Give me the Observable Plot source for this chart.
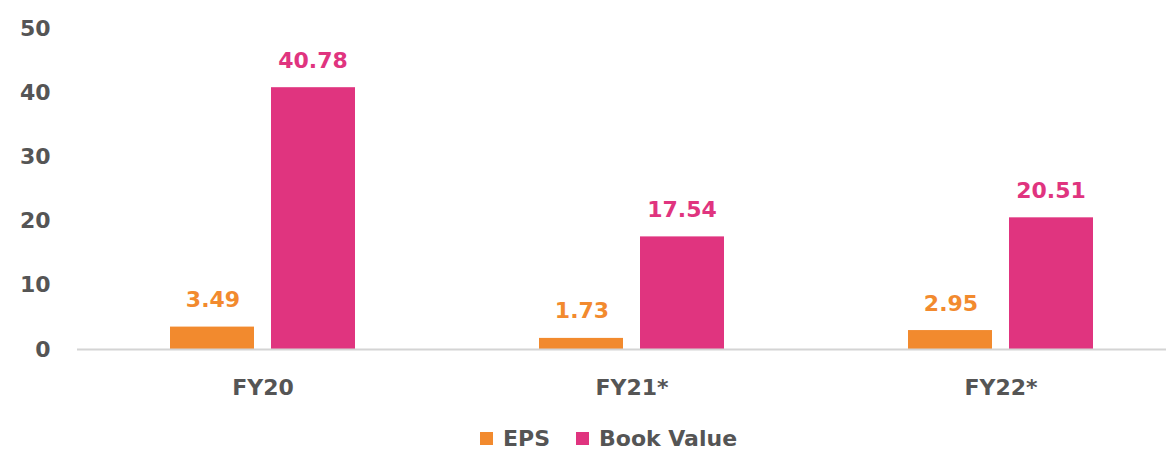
<!DOCTYPE html>
<html>
<head>
<meta charset="utf-8">
<script src="https://cdn.jsdelivr.net/npm/d3@7"></script>
<script src="https://cdn.jsdelivr.net/npm/@observablehq/plot@0.6"></script>
<style>
  html, body { margin: 0; padding: 0; background: #fff; }
  body { width: 1166px; height: 464px; overflow: hidden; font-family: "DejaVu Sans", sans-serif; }
  #legend { height: 44px; display: flex; justify-content: flex-start; align-items: center; font-weight: bold; font-size: 22px; color: #555; padding-left: 480px; margin-top: -4px; }
  .item { display: flex; align-items: center; margin-right: 26px; }
  .sw { width: 13px; height: 13px; margin-right: 10px; }
</style>
</head>
<body>
<div id="chart"></div>
<div id="legend"></div>
<script>
const categories = ["FY20", "FY21*", "FY22*"];
const series = ["EPS", "Book Value"];
const eps = [3.49, 1.73, 2.95];
const bookValue = [40.78, 17.54, 20.51];
const yTicks = [0, 10, 20, 30, 40, 50];
const colors = ["#F28A2E", "#E0347F"];

const rows = categories.map((c, i) => ({cat: c, eps: eps[i], bv: bookValue[i]}));

const font = "'DejaVu Sans', sans-serif";
const plot = Plot.plot({
  width: 1166,
  height: 420,
  marginTop: 28,
  marginBottom: 71,
  marginLeft: 77,
  marginRight: 0,
  style: {fontFamily: font, fontWeight: "bold", fontSize: "22px", color: "#555", background: "#fff"},
  x: {domain: categories, range: [77, 1185], padding: 0, label: null},
  y: {domain: [0, 50], ticks: yTicks, label: null},
  marks: [
    Plot.axisY({ticks: yTicks, tickSize: 0, tickPadding: 27, fontSize: 22, fontWeight: "bold", fill: "#555", label: null}),
    Plot.axisX({tickSize: 0, tickPadding: 30, fontSize: 22, fontWeight: "bold", fill: "#555", label: null}),
    Plot.barY(rows, {x: "cat", y: "eps", fill: colors[0], insetLeft: 92, insetRight: 193}),
    Plot.barY(rows, {x: "cat", y: "bv", fill: colors[1], insetLeft: 193, insetRight: 92}),
    Plot.ruleY([0], {stroke: "#d4d4d4", strokeWidth: 2}),
    Plot.text(rows, {x: "cat", y: "eps", text: d => d.eps.toFixed(2), dx: -50, dy: -27, fill: colors[0], fontSize: 22, fontWeight: "bold"}),
    Plot.text(rows, {x: "cat", y: "bv", text: d => d.bv.toFixed(2), dx: 50, dy: -27, fill: colors[1], fontSize: 22, fontWeight: "bold"})
  ]
});
document.getElementById("chart").appendChild(plot);

const legend = document.getElementById("legend");
series.forEach((s, i) => {
  const item = document.createElement("div");
  item.className = "item";
  item.innerHTML = `<span class="sw" style="background:${colors[i]}"></span><span>${s}</span>`;
  legend.appendChild(item);
});
</script>
</body>
</html>
